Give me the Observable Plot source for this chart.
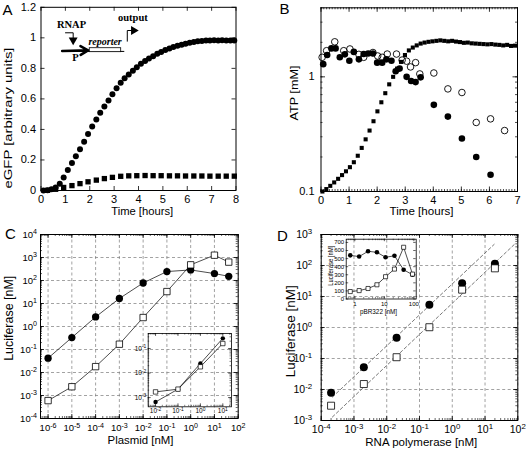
<!DOCTYPE html>
<html>
<head>
<meta charset="utf-8">
<script src="https://cdn.jsdelivr.net/npm/d3@7"></script>
<script src="https://cdn.jsdelivr.net/npm/@observablehq/plot@0.6"></script>
<style>
html,body{margin:0;padding:0;background:#fff;}
#fig{position:relative;width:527px;height:453px;overflow:hidden;background:#fff;}
#fig svg{position:absolute;left:0;top:0;background:transparent !important;overflow:visible;}
</style>
</head>
<body>
<div id="fig"></div>
<script>
// ---------------- Panel A : eGFP vs time ----------------
const aCircleTime = [0.10,0.27,0.43,0.60,0.77,0.93,1.10,1.27,1.43,1.60,1.77,1.93,2.10,2.27,2.43,2.60,2.77,2.93,3.10,3.27,3.43,3.60,3.77,3.93,4.10,4.27,4.43,4.60,4.77,4.93,5.10,5.27,5.43,5.60,5.77,5.93,6.10,6.27,6.43,6.60,6.77,6.93,7.10,7.27,7.43,7.60,7.77,7.93];
const aCircleGFP = [0.000,0.002,0.008,0.020,0.045,0.085,0.135,0.180,0.225,0.270,0.320,0.370,0.420,0.465,0.510,0.550,0.590,0.630,0.670,0.705,0.735,0.760,0.785,0.808,0.830,0.848,0.865,0.880,0.895,0.908,0.920,0.930,0.940,0.948,0.955,0.962,0.968,0.973,0.977,0.980,0.982,0.983,0.984,0.983,0.984,0.983,0.982,0.982];
const aSquareTime = [0.27,0.60,0.93,1.27,1.60,1.93,2.27,2.60,2.93,3.27,3.60,3.93,4.27,4.60,4.93,5.27,5.60,5.93,6.27,6.60,6.93,7.27,7.60,7.93];
const aSquareGFP = [0.001,0.008,0.020,0.032,0.045,0.057,0.068,0.078,0.086,0.093,0.096,0.097,0.098,0.097,0.097,0.096,0.096,0.095,0.095,0.095,0.094,0.094,0.094,0.094];
const aXTicks = [0,1,2,3,4,5,6,7,8];
const aYTicks = [0,0.2,0.4,0.6,0.8,1,1.2];
const aTitleX = "Time [hours]";
const aTitleY = "eGFP [arbitrary units]";
// schematic inset of panel A (in panel A data units)
const aDiagramText = ["RNAP","P","output"];
const aDiagramTextTime = [1.25,1.415,3.77];
const aDiagramTextLevel = [1.084,0.873,1.132];
const aReporterText = ["reporter"];
const aReporterTextTime = [2.63];
const aReporterTextLevel = [0.972];
const aDnaTime = [0.87,3.40];
const aDnaLevel = [0.911,0.911];
const aPromoter = [{t1:0.87,v1:0.914,t2:1.93,v2:0.918}];
const aReporterBox = [{t1:2.0,t2:3.29,v1:0.906,v2:0.932}];
const aRnapPathTime = [1.005,1.32,1.32];
const aRnapPathLevel = [1.033,1.033,1.0];
const aOutputPathTime = [3.54,3.54,3.72];
const aOutputPathLevel = [0.978,1.048,1.048];
const aArrowHeadTime = [1.32,3.80];
const aArrowHeadLevel = [0.985,1.048];
const aArrowHeadTurn = [180,90];

// ---------------- Panel B : ATP vs time ----------------
const bSquareTime = [0.05,0.19,0.33,0.47,0.61,0.75,0.89,1.03,1.17,1.31,1.45,1.59,1.73,1.87,2.01,2.15,2.29,2.43,2.57,2.71,2.85,2.99,3.13,3.27,3.41,3.55,3.69,3.83,3.97,4.11,4.25,4.39,4.53,4.67,4.81,4.95,5.09,5.23,5.37,5.51,5.65,5.79,5.93,6.07,6.21,6.35,6.49,6.63,6.77,6.91];
const bSquareATP = [0.100,0.105,0.112,0.120,0.129,0.139,0.150,0.163,0.180,0.205,0.240,0.285,0.340,0.410,0.500,0.600,0.720,0.860,1.000,1.180,1.350,1.550,1.700,1.800,1.880,1.950,1.990,2.020,2.040,2.060,2.080,2.060,2.040,2.060,2.030,2.010,1.980,1.990,1.960,1.950,1.940,1.930,1.920,1.930,1.910,1.900,1.880,1.900,1.860,1.870];
const bFilledTime = [0.08,0.22,0.37,0.52,0.67,0.85,1.01,1.17,1.35,1.52,1.68,1.85,2.00,2.18,2.33,2.51,2.66,2.80,3.05,3.21,3.37,3.55,4.02,4.52,5.02,5.53,6.04];
const bFilledATP = [1.29,1.55,1.77,1.77,1.48,1.57,1.38,1.65,1.42,1.58,1.60,1.60,1.33,1.33,1.42,1.38,1.12,1.18,1.00,0.92,0.90,0.99,0.57,0.45,0.29,0.20,0.14];
const bOpenTime = [0.04,0.20,0.49,0.81,1.03,1.35,1.52,1.85,2.02,2.18,2.36,2.69,2.89,3.05,3.19,3.37,3.52,4.02,4.52,5.02,5.53,6.04,6.54];
const bOpenATP = [1.48,1.69,2.02,1.69,1.75,1.57,1.48,1.63,1.52,1.48,1.58,1.58,1.40,1.37,1.22,1.33,1.06,1.08,0.785,0.73,0.40,0.43,0.34];
const bXTicks = [0,1,2,3,4,5,6,7];
const bYTicks = [0.1,1];
const bTitleX = "Time [hours]";
const bTitleY = "ATP [mM]";

// ---------------- Panel C : luciferase vs plasmid ----------------
const cPlasmid = [1e-6,1e-5,1e-4,1e-3,1e-2,1e-1,1,10,40];
const cCircle = [0.042,0.33,2.6,16.5,78,245,288,200,152];
const cSquare = [6e-4,2.4e-3,0.018,0.17,2.45,33,480,1260,630];
const cInsetPlasmid = [0.01,0.1,1,10];
const cInsetCircle = [6.6e-4,2.2e-3,0.0245,0.26];
const cInsetSquare = [1.7e-3,2.2e-3,0.018,0.16];
const cXTicks = [1e-6,1e-5,1e-4,1e-3,1e-2,1e-1,1,10,100];
const cYTicks = [1e-4,1e-3,1e-2,1e-1,1,10,100,1e3,1e4];
const cInsetXTicks = [0.01,0.1,1,10];
const cInsetYTicks = [1e-3,1e-2,1e-1];
const cTitleX = "Plasmid [nM]";
const cTitleY = "Luciferase [nM]";

// ---------------- Panel D : luciferase vs RNA polymerase ----------------
const dPolymerase = [2e-4,2e-3,2e-2,2e-1,2,20];
const dCircle = [0.0079,0.052,0.47,5.4,27,113];
const dSquare = [0.003,0.015,0.11,1.02,16.6,81];
const dFitUpperX = [2.2e-4,19];
const dFitUpperY = [5.7e-3,480];
const dFitLowerX = [2.2e-4,82];
const dFitLowerY = [1.3e-3,500];
const dInsetPBR = [0.7,1.4,2.8,5.6,11,22,45,90];
const dInsetCircle = [540,525,590,578,516,535,362,300];
const dInsetSquare = [92,104,130,176,276,370,640,308];
const dXTicks = [1e-4,1e-3,1e-2,1e-1,1,10,100];
const dYTicks = [1e-3,1e-2,1e-1,1,10,100,1e3];
const dInsetXTicks = [1,10,100];
const dInsetYTicks = [0,100,200,300,400,500,600,700];
const dTitleX = "RNA polymerase [nM]";
const dTitleY = "Luciferase [nM]";
const dInsetTitleX = "pBR322 [nM]";
const dInsetTitleY = "Luciferase [nM]";

const panelLetters = ["A","B","C","D"];

// ---------------- helpers ----------------
const FONT = '"Liberation Sans", Arial, Helvetica, sans-serif';
const SERIF = '"Liberation Serif", "Times New Roman", serif';
const W = 527, H = 453;
const svgNS = "http://www.w3.org/2000/svg";
const fig = document.getElementById("fig");
const pow10Label = d => "10^" + Math.round(Math.log10(d));
const grid = {stroke: "#7a7a7a", strokeOpacity: 1, strokeWidth: 0.7, strokeDasharray: "3,2.5"};

function edgeTicks(xv, yv, len, iw, ih, sw = 0.8) {
  const o = {stroke: "black", strokeWidth: sw};
  const m = [];
  if (xv) m.push(Plot.ruleX(xv, {...o, insetTop: ih - len}), Plot.ruleX(xv, {...o, insetBottom: ih - len}));
  if (yv) m.push(Plot.ruleY(yv, {...o, insetRight: iw - len}), Plot.ruleY(yv, {...o, insetLeft: iw - len}));
  return m;
}
function title(str, anchor, dx, dy, fontSize, rotate) {
  return Plot.text([str], {text: d => d, frameAnchor: anchor, dx, dy, fontSize, rotate: rotate || 0, textAnchor: "middle", lineAnchor: "middle"});
}
function addPanel({frame, x, y, marks, fit = {}}) {
  const [L, R, T, B] = frame;
  const iw = R - L, ih = B - T;
  const svg = Plot.plot({
    width: W, height: H,
    marginLeft: L, marginRight: W - R, marginTop: T, marginBottom: H - B,
    x, y,
    style: {background: "transparent", fontFamily: FONT, fontSize: "11px", overflow: "visible"},
    marks: marks(iw, ih)
  });
  svg.querySelectorAll("text").forEach(t => {
    const s = t.textContent;
    const m = /^10\^(-?\d+)$/.exec(s);
    if (m) {
      t.textContent = "10";
      const ts = document.createElementNS(svgNS, "tspan");
      ts.setAttribute("dy", "-0.45em");
      ts.style.fontSize = "0.75em";
      ts.textContent = m[1];
      t.appendChild(ts);
    } else if (fit[s]) {
      t.setAttribute("textLength", fit[s]);
      t.setAttribute("lengthAdjust", "spacingAndGlyphs");
    }
  });
  fig.appendChild(svg);
}

// ---------------- Panel A ----------------
addPanel({
  frame: [40.5, 235.5, 6.8, 190],
  x: {domain: [0, 8]}, y: {domain: [0, 1.2]},
  fit: {[aTitleX]: 62, [aTitleY]: 141},
  marks: (iw, ih) => [
    Plot.frame({stroke: "black", strokeWidth: 1}),
    ...edgeTicks(aXTicks, aYTicks, 4, iw, ih),
    Plot.axisX(aXTicks, {tickSize: 0, tickPadding: 5, fontSize: 11, label: null, tickFormat: d => String(d)}),
    Plot.axisY(aYTicks, {tickSize: 0, tickPadding: 5, fontSize: 11, label: null, tickFormat: d => String(d)}),
    Plot.dot(aCircleGFP, {x: aCircleTime, y: aCircleGFP, r: 3, fill: "black"}),
    Plot.dot(aSquareGFP, {x: aSquareTime, y: aSquareGFP, r: 3, symbol: "square", fill: "black"}),
    Plot.line(aDnaLevel, {x: aDnaTime, y: aDnaLevel, stroke: "black", strokeWidth: 1}),
    Plot.rect(aReporterBox, {x1: "t1", x2: "t2", y1: "v1", y2: "v2", fill: "white", stroke: "black", strokeWidth: 0.8}),
    Plot.arrow(aPromoter, {x1: "t1", y1: "v1", x2: "t2", y2: "v2", stroke: "black", strokeWidth: 2.6, headLength: 7}),
    Plot.line(aRnapPathLevel, {x: aRnapPathTime, y: aRnapPathLevel, stroke: "black", strokeWidth: 1}),
    Plot.line(aOutputPathLevel, {x: aOutputPathTime, y: aOutputPathLevel, stroke: "black", strokeWidth: 1}),
    Plot.dot(aArrowHeadLevel, {x: aArrowHeadTime, y: aArrowHeadLevel, rotate: aArrowHeadTurn, symbol: "triangle", r: 3.3, fill: "black"}),
    Plot.text(aDiagramText, {x: aDiagramTextTime, y: aDiagramTextLevel, text: d => d, fontFamily: SERIF, fontWeight: "bold", fontSize: 10.5}),
    Plot.text(aReporterText, {x: aReporterTextTime, y: aReporterTextLevel, text: d => d, fontFamily: SERIF, fontWeight: "bold", fontStyle: "italic", fontSize: 10}),
    title(aTitleX, "bottom", 3.7, 21, 11.5),
    title(aTitleY, "left", -33, 19.1, 11.5, -90),
    title(panelLetters[0], "top-left", -33.5, 3.2, 15)
  ]
});

// ---------------- Panel B ----------------
const bXMinor = d3.scaleLinear().domain([0, 7]).ticks(70);
const bYMinor = d3.scaleLog().domain([0.1, 4]).ticks();
addPanel({
  frame: [320.5, 517, 7.3, 191],
  x: {domain: [0, 7]}, y: {type: "log", domain: [0.1, 4]},
  fit: {[bTitleX]: 64, [bTitleY]: 55},
  marks: (iw, ih) => [
    Plot.frame({stroke: "black", strokeWidth: 1}),
    ...edgeTicks(bXMinor, bYMinor, 2, iw, ih, 0.7),
    ...edgeTicks(bXTicks, bYTicks, 4.5, iw, ih),
    Plot.axisX(bXTicks, {tickSize: 0, tickPadding: 4.5, fontSize: 11, label: null, tickFormat: d => String(d)}),
    Plot.axisY(bYTicks, {tickSize: 0, tickPadding: 6.5, fontSize: 11, label: null, tickFormat: d => String(d)}),
    Plot.dot(bSquareATP, {x: bSquareTime, y: bSquareATP, symbol: "square", r: 2.3, fill: "black"}),
    Plot.dot(bFilledATP, {x: bFilledTime, y: bFilledATP, r: 3.3, fill: "black"}),
    Plot.dot(bOpenATP, {x: bOpenTime, y: bOpenATP, r: 3.3, fill: "none", stroke: "black", strokeWidth: 0.9}),
    title(bTitleX, "bottom", 2.3, 19.7, 11.5),
    title(bTitleY, "left", -26.5, -6.6, 11.5, -90),
    title(panelLetters[1], "top-left", -36.5, 1.7, 15)
  ]
});

// ---------------- Panel C ----------------
const cXDomain = [4.8e-7, 100], cYDomain = [1e-4, 1e4];
addPanel({
  frame: [40, 237.7, 234, 418],
  x: {type: "log", domain: cXDomain}, y: {type: "log", domain: cYDomain},
  fit: {[cTitleX]: 66, [cTitleY]: 85},
  marks: (iw, ih) => [
    Plot.gridX(cXTicks, grid),
    Plot.gridY(cYTicks, grid),
    Plot.frame({stroke: "black", strokeWidth: 1}),
    ...edgeTicks(d3.scaleLog().domain(cXDomain).ticks(), d3.scaleLog().domain(cYDomain).ticks(), 2, iw, ih, 0.6),
    ...edgeTicks(cXTicks, cYTicks, 4, iw, ih),
    Plot.axisX(cXTicks, {tickSize: 0, tickPadding: 5.5, fontSize: 9.5, label: null, tickFormat: pow10Label}),
    Plot.axisY(cYTicks, {tickSize: 0, tickPadding: 3.5, fontSize: 9.5, label: null, tickFormat: pow10Label}),
    Plot.line(cCircle, {x: cPlasmid, y: cCircle, stroke: "black", strokeWidth: 0.7}),
    Plot.line(cSquare, {x: cPlasmid, y: cSquare, stroke: "black", strokeWidth: 0.7}),
    Plot.dot(cCircle, {x: cPlasmid, y: cCircle, r: 3.65, fill: "black"}),
    Plot.dot(cSquare, {x: cPlasmid, y: cSquare, r: 3.6, symbol: "square", fill: "white", stroke: "black", strokeWidth: 0.8}),
    title(cTitleX, "bottom", 1.2, 22, 11.5),
    title(cTitleY, "left", -31.7, -8.2, 12, -90),
    title(panelLetters[2], "top-left", -30, -0.5, 15)
  ]
});

// ---------------- Panel D ----------------
const dXDomain = [1e-4, 100], dYDomain = [1e-3, 1e3];
addPanel({
  frame: [320.7, 517.3, 234, 420],
  x: {type: "log", domain: dXDomain}, y: {type: "log", domain: dYDomain},
  fit: {[dTitleX]: 112, [dTitleY]: 92},
  marks: (iw, ih) => [
    Plot.gridX(dXTicks, grid),
    Plot.gridY(dYTicks, grid),
    Plot.frame({stroke: "black", strokeWidth: 1}),
    ...edgeTicks(d3.scaleLog().domain(dXDomain).ticks(), d3.scaleLog().domain(dYDomain).ticks(), 2, iw, ih, 0.6),
    ...edgeTicks(dXTicks, dYTicks, 4, iw, ih),
    Plot.axisX(dXTicks, {tickSize: 0, tickPadding: 5, fontSize: 10.5, label: null, tickFormat: pow10Label}),
    Plot.axisY(dYTicks, {tickSize: 0, tickPadding: 9, fontSize: 10.5, label: null, tickFormat: pow10Label}),
    Plot.line(dFitUpperY, {x: dFitUpperX, y: dFitUpperY, stroke: "#555", strokeWidth: 0.8, strokeDasharray: "3,2.5"}),
    Plot.line(dFitLowerY, {x: dFitLowerX, y: dFitLowerY, stroke: "#555", strokeWidth: 0.8, strokeDasharray: "3,2.5"}),
    Plot.dot(dCircle, {x: dPolymerase, y: dCircle, r: 4, fill: "black"}),
    Plot.dot(dSquare, {x: dPolymerase, y: dSquare, r: 3.95, symbol: "square", fill: "white", stroke: "black", strokeWidth: 0.8}),
    title(dTitleX, "bottom", 1.8, 21.5, 11.5),
    title(dTitleY, "left", -30, 3.8, 12, -90),
    title(panelLetters[3], "top-left", -38.7, 1.5, 15)
  ]
});

// ---------------- Panel C inset ----------------
const ciXDomain = [0.0047, 24.4], ciYDomain = [4.2e-4, 0.41];
addPanel({
  frame: [147.7, 231, 333, 406.3],
  x: {type: "log", domain: ciXDomain}, y: {type: "log", domain: ciYDomain},
  marks: (iw, ih) => [
    Plot.frame({stroke: "black", strokeWidth: 0.8}),
    ...edgeTicks(d3.scaleLog().domain(ciXDomain).ticks(), d3.scaleLog().domain(ciYDomain).ticks(), 1.5, iw, ih, 0.5),
    ...edgeTicks(cInsetXTicks, cInsetYTicks, 3, iw, ih, 0.6),
    Plot.axisX(cInsetXTicks, {tickSize: 0, tickPadding: 1.5, fontSize: 6.5, label: null, tickFormat: pow10Label}),
    Plot.axisY(cInsetYTicks, {tickSize: 0, tickPadding: 2, fontSize: 6.5, label: null, tickFormat: pow10Label}),
    Plot.line(cInsetCircle, {x: cInsetPlasmid, y: cInsetCircle, stroke: "black", strokeWidth: 0.7}),
    Plot.line(cInsetSquare, {x: cInsetPlasmid, y: cInsetSquare, stroke: "black", strokeWidth: 0.7}),
    Plot.dot(cInsetCircle, {x: cInsetPlasmid, y: cInsetCircle, r: 2.2, fill: "black"}),
    Plot.dot(cInsetSquare, {x: cInsetPlasmid, y: cInsetSquare, r: 2.5, symbol: "square", fill: "white", stroke: "black", strokeWidth: 0.7})
  ]
});

// ---------------- Panel D inset ----------------
const diXDomain = [0.51, 120];
addPanel({
  frame: [345.7, 415.7, 238.7, 298.5],
  x: {type: "log", domain: diXDomain}, y: {domain: [0, 740]},
  fit: {[dInsetTitleX]: 37, [dInsetTitleY]: 40},
  marks: (iw, ih) => [
    Plot.frame({stroke: "black", strokeWidth: 0.8}),
    ...edgeTicks(d3.scaleLog().domain(diXDomain).ticks(), null, 1.5, iw, ih, 0.5),
    ...edgeTicks(dInsetXTicks, dInsetYTicks, 2.5, iw, ih, 0.6),
    Plot.axisX(dInsetXTicks, {tickSize: 0, tickPadding: 2.5, fontSize: 6, label: null, tickFormat: d => String(d)}),
    Plot.axisY(dInsetYTicks, {tickSize: 0, tickPadding: 2, fontSize: 6, label: null, tickFormat: d => String(d)}),
    Plot.line(dInsetCircle, {x: dInsetPBR, y: dInsetCircle, stroke: "black", strokeWidth: 0.7}),
    Plot.line(dInsetSquare, {x: dInsetPBR, y: dInsetSquare, stroke: "black", strokeWidth: 0.7}),
    Plot.dot(dInsetCircle, {x: dInsetPBR, y: dInsetCircle, r: 2.3, fill: "black"}),
    Plot.dot(dInsetSquare, {x: dInsetPBR, y: dInsetSquare, r: 2.3, symbol: "square", fill: "white", stroke: "black", strokeWidth: 0.7}),
    title(dInsetTitleX, "bottom", -2.7, 12.5, 6.5),
    title(dInsetTitleY, "left", -15.7, -3.3, 6.5, -90)
  ]
});
</script>
</body>
</html>
